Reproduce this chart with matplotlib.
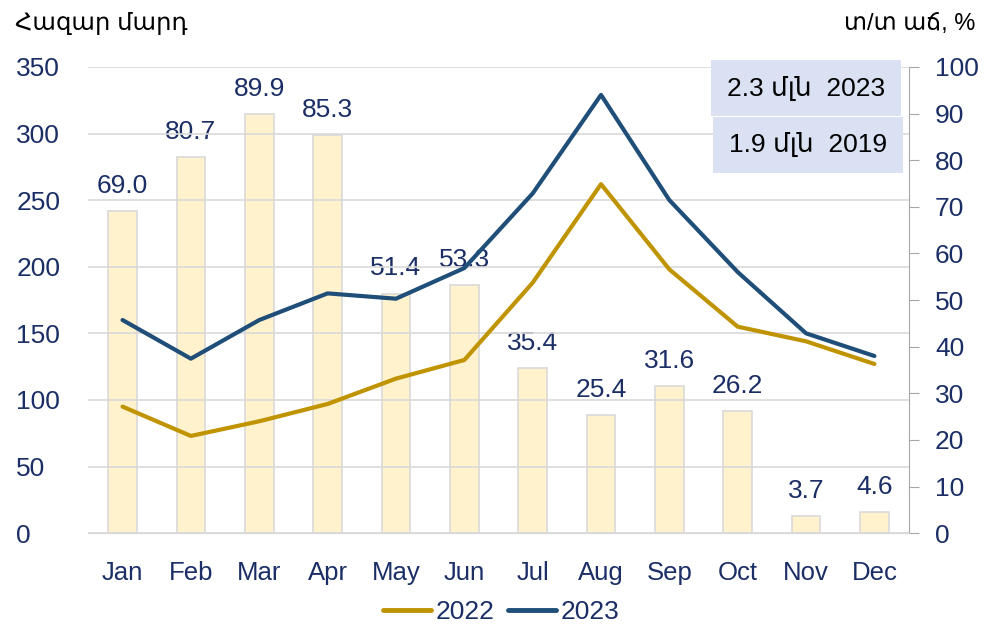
import matplotlib.pyplot as plt
from matplotlib.patches import Rectangle
import numpy as np

months = ['Jan', 'Feb', 'Mar', 'Apr', 'May', 'Jun', 'Jul', 'Aug', 'Sep', 'Oct', 'Nov', 'Dec']
visitors_2022 = [95, 73, 84, 97, 116, 130, 188, 262, 198, 155, 144, 127]
visitors_2023 = [160, 131, 160, 180, 176, 199, 255, 329, 250, 196, 150, 133]
growth = [69.0, 80.7, 89.9, 85.3, 51.4, 53.3, 35.4, 25.4, 31.6, 26.2, 3.7, 4.6]
box_texts = ['2.3 մլն  2023', '1.9 մլն  2019']

navy = '#1B2F66'
gold = '#C09300'
blue = '#1F4E79'
fam = ['Liberation Sans', 'DejaVu Sans']

plt.rcParams['font.family'] = fam

fig = plt.figure(figsize=(9.93, 6.31), dpi=100)
ax = fig.add_axes([0.089, 0.155, 0.826, 0.739])
ax2 = ax.twinx()
ax.set_zorder(ax2.get_zorder() + 1)
ax.patch.set_visible(False)

x = np.arange(len(months))

# bars (right axis)
ax2.bar(x, growth, width=0.42, color='#FFF2CC', edgecolor='#D9D9D9', linewidth=1.2, zorder=2)
for xi, v in zip(x, growth):
    ax2.text(xi, v + 2.8, f'{v:.1f}', ha='center', va='bottom', fontsize=19, color=navy, zorder=3)
ax2.set_ylim(0, 100)
ax2.set_yticks(range(0, 101, 10))
ax2.tick_params(axis='y', labelsize=19, labelcolor=navy, color='#A6A6A6', length=7, pad=12)

# lines (left axis)
ax.plot(x, visitors_2022, color=gold, linewidth=3, label='2022', solid_capstyle='round')
ax.plot(x, visitors_2023, color=blue, linewidth=3, label='2023', solid_capstyle='round')
ax.set_ylim(0, 350)
ax.set_yticks(range(0, 351, 50))
ax.set_xlim(-0.5, 11.5)
ax.set_xticks(x)
ax.set_xticklabels(months, fontsize=18.5, color=navy)
ax.tick_params(axis='y', labelsize=19, labelcolor=navy, length=0, pad=52)
ax.tick_params(axis='x', length=0, pad=20)
for lbl in ax.get_yticklabels():
    lbl.set_horizontalalignment('left')
ax.grid(axis='y', color='#D9D9D9', linewidth=1.2)
ax.set_axisbelow(True)

for a in (ax, ax2):
    a.spines['top'].set_visible(False)
    a.spines['left'].set_visible(False)
    a.spines['right'].set_visible(False)
    a.spines['bottom'].set_color('#D9D9D9')
ax2.spines['right'].set_visible(True)
ax2.spines['right'].set_color('#A6A6A6')

# header texts
fig.text(0.015, 0.962, 'Հազար մարդ', fontsize=17.5, color='black', va='center', ha='left')
fig.text(0.982, 0.962, 'տ/տ աճ, %', fontsize=17, color='black', va='center', ha='right')

# info boxes
boxes = [(0.716, 0.816), (0.718, 0.726)]
for t, (bx, by) in zip(box_texts, boxes):
    fig.patches.append(Rectangle((bx, by), 0.191, 0.089, transform=fig.transFigure,
                                 facecolor='#D9E1F2', edgecolor='none', zorder=5))
    fig.text(bx + 0.0955, by + 0.0445, t, fontsize=19, color='black', ha='center', va='center',
             zorder=6)

leg = fig.legend(loc='center', bbox_to_anchor=(0.505, 0.03), ncol=2, frameon=False,
                 prop={'size': 19}, handlelength=1.8, handletextpad=0.2,
                 columnspacing=0.5)
for txt in leg.get_texts():
    txt.set_color(navy)
for h in leg.get_lines():
    h.set_linewidth(3.5)

fig.savefig('out.png', dpi=100)
